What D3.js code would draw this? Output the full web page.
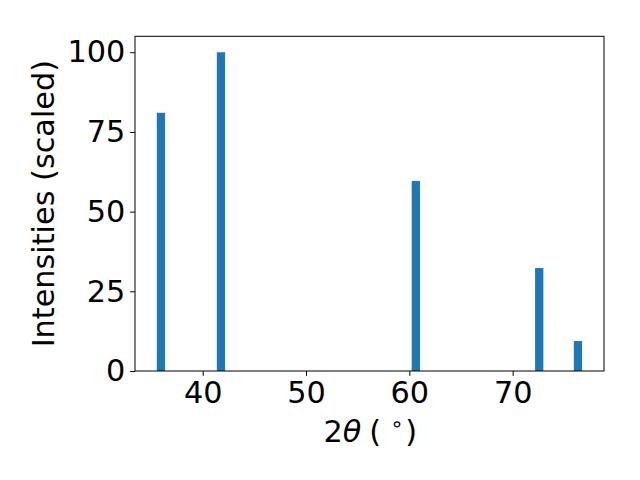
<!DOCTYPE html>
<html><head><meta charset="utf-8">
<script src="https://cdn.jsdelivr.net/npm/d3@7"></script>
<style>body{margin:0;background:#fff}svg{display:block}</style>
</head><body>
<script>
const angles = [35.96, 41.77, 60.63, 72.57, 76.32];
const intensities = [81.0, 100, 59.6, 32.3, 9.4];
const xTicks = [40, 50, 60, 70];
const yTicks = [0, 25, 50, 75, 100];
const barWidth = 0.8;

const W = 640, H = 480;
const m = {left: 135, right: 604, top: 36.3, bottom: 371};
const svg = d3.select("body").append("svg").attr("width", W).attr("height", H);
const x = d3.scaleLinear().domain([33.45, 78.84]).range([m.left, m.right]);
const y = d3.scaleLinear().domain([0, 105]).range([m.bottom, m.top]);
const font = "DejaVu Sans, sans-serif";
const fs = 30.3;

svg.append("g").selectAll("rect").data(angles).join("rect")
  .attr("x", (d) => x(d - barWidth / 2))
  .attr("width", (d) => x(d + barWidth / 2) - x(d - barWidth / 2))
  .attr("y", (d, i) => y(intensities[i]))
  .attr("height", (d, i) => y(0) - y(intensities[i]))
  .attr("fill", "#1f77b4");

const xa = svg.append("g").attr("transform", `translate(0,${m.bottom})`)
  .call(d3.axisBottom(x).tickValues(xTicks).tickSize(4.9).tickPadding(5).tickFormat(d3.format("d")));
const ya = svg.append("g").attr("transform", `translate(${m.left},0)`)
  .call(d3.axisLeft(y).tickValues(yTicks).tickSize(4.9).tickPadding(4.9).tickFormat(d3.format("d")));
[xa, ya].forEach(a => {
  a.select(".domain").remove();
  a.selectAll("line").attr("stroke", "#000").attr("stroke-width", 1);
  a.selectAll("text").attr("font-family", font).attr("font-size", fs).attr("fill", "#000");
});
xa.selectAll("text").attr("y", 32.4).attr("dy", null);

svg.append("rect").attr("x", m.left).attr("y", m.top)
  .attr("width", m.right - m.left).attr("height", m.bottom - m.top)
  .attr("fill", "none").attr("stroke", "#000").attr("stroke-width", 1);

const xl = svg.append("text").attr("y", 441.7)
  .attr("font-family", font).attr("font-size", fs).attr("fill", "#000");
xl.append("tspan").attr("x", 323.5).text("2");
xl.append("tspan").attr("font-style", "italic").text("θ");
xl.append("tspan").attr("x", 369.3).text("(");
xl.append("tspan").attr("x", 390.4).attr("y", 431).attr("font-size", 21).text("∘");
xl.append("tspan").attr("x", 405.2).attr("y", 441.7).text(")");

svg.append("text").attr("transform", `translate(54.3,${(m.top + m.bottom) / 2}) rotate(-90)`)
  .attr("text-anchor", "middle").attr("font-family", font).attr("font-size", fs).attr("fill", "#000")
  .text("Intensities (scaled)");
</script>
</body></html>
